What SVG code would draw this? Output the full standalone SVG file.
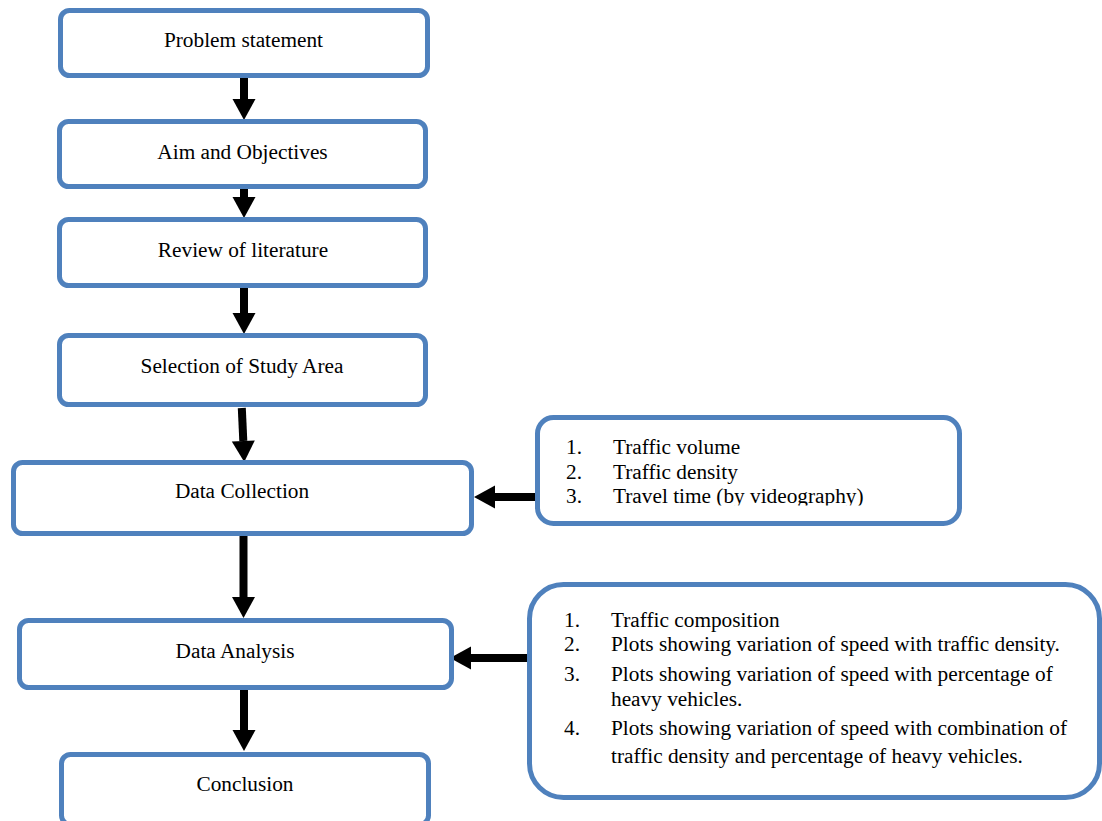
<svg xmlns="http://www.w3.org/2000/svg" width="1102" height="821" viewBox="0 0 1102 821">
  <style>
    .box { fill: #FFFFFF; stroke: #4F81BD; stroke-width: 5; }
    .t { font-family: "Liberation Serif", "Times New Roman", serif; font-size: 21.3px; fill: #000000; }
    .c { text-anchor: middle; }
    .arr { stroke: #000000; stroke-width: 8; fill: none; marker-end: url(#head); }
  </style>
  <defs>
    <marker id="head" markerUnits="userSpaceOnUse" markerWidth="22" markerHeight="24" refX="0" refY="12" orient="auto" overflow="visible">
      <path d="M0,0.5 L21,12 L0,23.5 Z" fill="#000000"/>
    </marker>
    <clipPath id="clip1">
      <rect x="540" y="420" width="418" height="85.5"/>
    </clipPath>
  </defs>
  <rect width="1102" height="821" fill="#FFFFFF"/>

  <g id="connectors">
    <line class="arr" x1="244" y1="76" x2="244" y2="99"/>
    <line class="arr" x1="244" y1="189" x2="244" y2="197"/>
    <line class="arr" x1="244" y1="288" x2="244" y2="313"/>
    <line class="arr" x1="241.8" y1="408" x2="243.3" y2="441"/>
    <line class="arr" x1="243.5" y1="536" x2="243.5" y2="597"/>
    <line class="arr" x1="244" y1="690" x2="244" y2="730"/>
    <line class="arr" x1="535" y1="497" x2="495" y2="497"/>
    <line class="arr" x1="527" y1="658" x2="471" y2="658"/>
  </g>

  <g id="problem-statement">
    <rect class="box" x="60.5" y="10.5" width="367" height="65" rx="9"/>
    <text class="t c" x="243.5" y="47">Problem statement</text>
  </g>
  <g id="aim-objectives">
    <rect class="box" x="59.5" y="121.5" width="366" height="65" rx="9"/>
    <text class="t c" x="242.5" y="159">Aim and Objectives</text>
  </g>
  <g id="review-literature">
    <rect class="box" x="59.5" y="219.5" width="366" height="66" rx="9"/>
    <text class="t c" x="243" y="257">Review of literature</text>
  </g>
  <g id="selection-study-area">
    <rect class="box" x="59.5" y="335.5" width="366" height="69" rx="9"/>
    <text class="t c" x="242" y="373">Selection of Study Area</text>
  </g>
  <g id="data-collection">
    <rect class="box" x="13.5" y="462.5" width="458" height="71" rx="9"/>
    <text class="t c" x="242" y="498">Data Collection</text>
  </g>
  <g id="data-analysis">
    <rect class="box" x="19.5" y="620.5" width="432" height="67" rx="9"/>
    <text class="t c" x="235" y="658">Data Analysis</text>
  </g>
  <g id="conclusion">
    <rect class="box" x="61.5" y="754.5" width="367" height="70" rx="9"/>
    <text class="t c" x="245" y="791">Conclusion</text>
  </g>

  <g id="collection-items">
    <rect class="box" x="537.5" y="417.5" width="422" height="106" rx="16"/>
    <g clip-path="url(#clip1)">
      <text class="t" x="566" y="454">1.</text>
      <text class="t" x="613" y="454">Traffic volume</text>
      <text class="t" x="566" y="479">2.</text>
      <text class="t" x="613" y="479">Traffic density</text>
      <text class="t" x="566" y="503">3.</text>
      <text class="t" x="613" y="503">Travel time (by videography)</text>
    </g>
  </g>

  <g id="analysis-items">
    <rect class="box" x="529.5" y="584.5" width="570" height="213" rx="34"/>
    <text class="t" x="564" y="627">1.</text>
    <text class="t" x="611" y="627">Traffic composition</text>
    <text class="t" x="564" y="651">2.</text>
    <text class="t" x="611" y="651">Plots showing variation of speed with traffic density.</text>
    <text class="t" x="564" y="681">3.</text>
    <text class="t" x="611" y="681">Plots showing variation of speed with percentage of</text>
    <text class="t" x="611" y="706">heavy vehicles.</text>
    <text class="t" x="564" y="735">4.</text>
    <text class="t" x="611" y="735">Plots showing variation of speed with combination of</text>
    <text class="t" x="611" y="763">traffic density and percentage of heavy vehicles.</text>
  </g>
</svg>
